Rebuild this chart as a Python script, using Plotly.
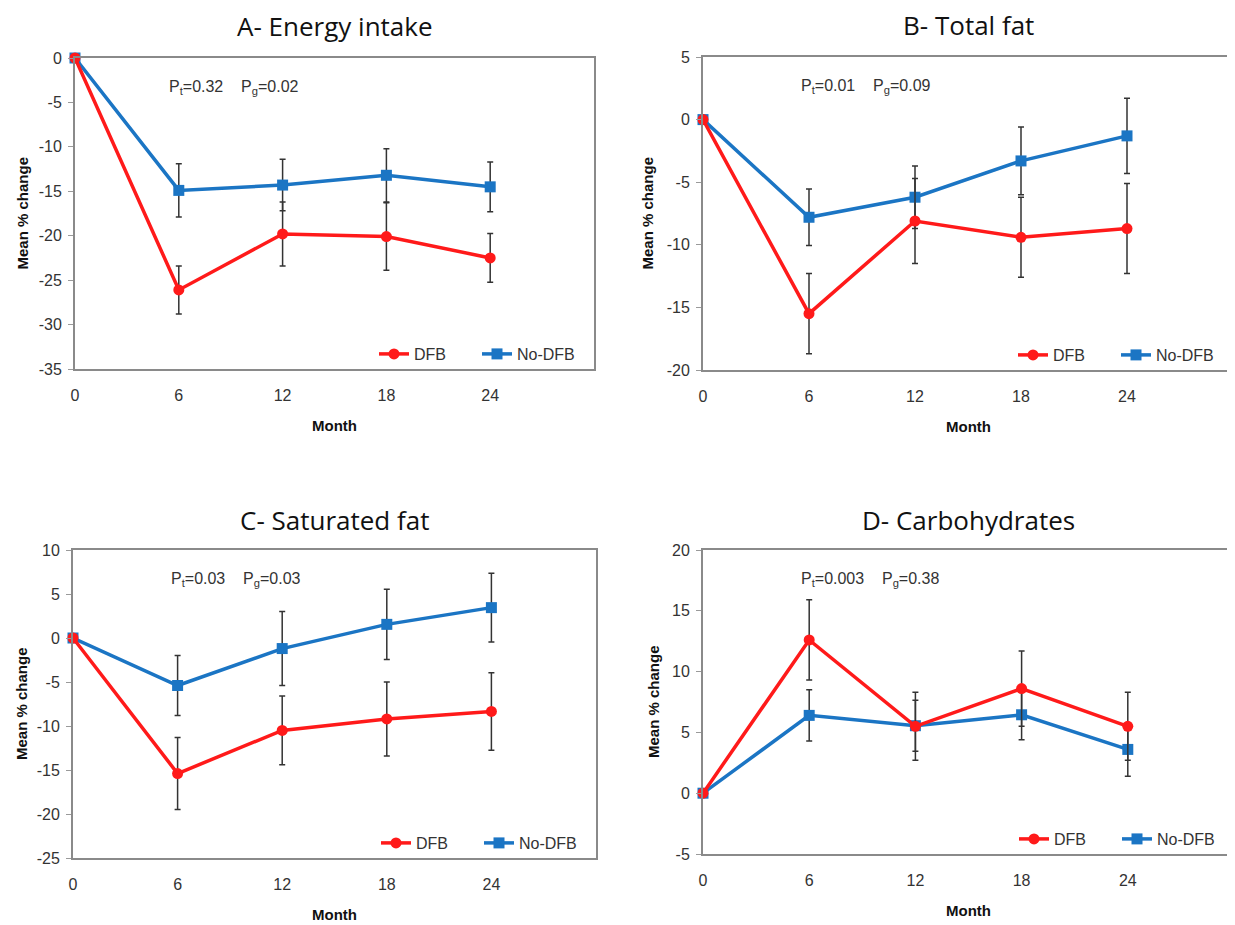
import plotly.graph_objects as go

W, H = 1235, 925
PAGE_OFFSET = 8  # the page body margin shifts the figure by this many pixels

months = [0, 6, 12, 18, 24]
month_ticks = [0, 6, 12, 18, 24]

panel_titles = ["A- Energy intake", "B- Total fat", "C- Saturated fat", "D- Carbohydrates"]
p_time = ["0.32", "0.01", "0.03", "0.003"]
p_group = ["0.02", "0.09", "0.03", "0.38"]

# A- Energy intake
a_dfb = [0, -26.1, -19.8, -20.1, -22.5]
a_dfb_err = [0, 2.7, 3.6, 3.8, 2.75]
a_nodfb = [0, -14.9, -14.3, -13.2, -14.5]
a_nodfb_err = [0, 3.0, 2.9, 3.0, 2.8]

# B- Total fat
b_dfb = [0, -15.5, -8.1, -9.4, -8.7]
b_dfb_err = [0, 3.2, 3.4, 3.2, 3.6]
b_nodfb = [0, -7.8, -6.2, -3.3, -1.3]
b_nodfb_err = [0, 2.25, 2.5, 2.7, 3.0]

# C- Saturated fat
c_dfb = [0, -15.4, -10.5, -9.2, -8.35]
c_dfb_err = [0, 4.1, 3.9, 4.2, 4.4]
c_nodfb = [0, -5.4, -1.2, 1.55, 3.45]
c_nodfb_err = [0, 3.4, 4.2, 4.0, 3.9]

# D- Carbohydrates
d_dfb = [0, 12.6, 5.5, 8.6, 5.5]
d_dfb_err = [0, 3.3, 2.8, 3.1, 2.8]
d_nodfb = [0, 6.4, 5.55, 6.45, 3.6]
d_nodfb_err = [0, 2.1, 2.1, 2.05, 2.2]

y_ranges = [[-35, 0], [-20, 5], [-25, 10], [-5, 20]]
y_ticks = [
    [0, -5, -10, -15, -20, -25, -30, -35],
    [5, 0, -5, -10, -15, -20],
    [10, 5, 0, -5, -10, -15, -20, -25],
    [20, 15, 10, 5, 0, -5],
]

series = [
    (a_dfb, a_dfb_err, a_nodfb, a_nodfb_err),
    (b_dfb, b_dfb_err, b_nodfb, b_nodfb_err),
    (c_dfb, c_dfb_err, c_nodfb, c_nodfb_err),
    (d_dfb, d_dfb_err, d_nodfb, d_nodfb_err),
]

# plot frames in page pixels: left, top, right, bottom
frames = [
    (75, 58, 594, 369),
    (703, 57, 1233, 370),
    (73, 550, 596, 858),
    (703, 550, 1234, 854),
]
title_offsets = [32, 32, 30, 30]
ytitle_offsets = [53, 56, 52, 50]

RED = "#FF1A1A"
BLUE = "#1B75C4"
ERR = "#333333"
FONT = "Liberation Sans, Arial, sans-serif"

fig = go.Figure()


def px(x):
    return (x - PAGE_OFFSET) / W


def py(y):
    return 1 - (y - PAGE_OFFSET) / H


annotations = []
layout_axes = {}
for i, (dfb, dfb_err, nod, nod_err) in enumerate(series):
    n = i + 1
    xa = "x" if n == 1 else f"x{n}"
    ya = "y" if n == 1 else f"y{n}"
    lg = "legend" if n == 1 else f"legend{n}"
    fig.add_trace(go.Scatter(
        x=months, y=nod, xaxis=xa, yaxis=ya, name="No-DFB", legend=lg,
        mode="lines+markers", cliponaxis=False,
        line=dict(color=BLUE, width=3.5),
        marker=dict(symbol="square", size=11, color=BLUE),
        error_y=dict(type="data", array=nod_err, visible=True, color=ERR, thickness=1.5, width=3),
    ))
    fig.add_trace(go.Scatter(
        x=months, y=dfb, xaxis=xa, yaxis=ya, name="DFB", legend=lg,
        mode="lines+markers", cliponaxis=False,
        line=dict(color=RED, width=3.5),
        marker=dict(symbol="circle", size=11, color=RED),
        error_y=dict(type="data", array=dfb_err, visible=True, color=ERR, thickness=1.5, width=3),
    ))
    l, t, r, b = frames[i]
    xkey = "xaxis" if n == 1 else f"xaxis{n}"
    ykey = "yaxis" if n == 1 else f"yaxis{n}"
    layout_axes[xkey] = dict(
        domain=[px(l), px(r)], anchor=ya, range=[0, 30], tickvals=month_ticks,
        ticktext=[str(v) for v in month_ticks], automargin=False,
        showgrid=False, zeroline=False, showline=True, mirror=True,
        linecolor="#8a8a8a", linewidth=2, ticks="", ticklabelstandoff=11,
        tickfont=dict(family=FONT, size=16, color="#333333"),
    )
    layout_axes[ykey] = dict(
        domain=[py(b), py(t)], anchor=xa, range=y_ranges[i],
        tickvals=y_ticks[i], ticktext=[str(v) for v in y_ticks[i]], automargin=False,
        showgrid=False, zeroline=False, showline=True, mirror=True,
        linecolor="#8a8a8a", linewidth=2, ticks="outside", ticklen=5,
        tickcolor="#9a9a9a", ticklabelstandoff=3,
        tickfont=dict(family=FONT, size=16, color="#333333"),
    )
    # panel title
    annotations.append(dict(
        text=panel_titles[i], xref="paper", yref="paper",
        x=px((l + r) / 2), y=py(t - title_offsets[i]), xanchor="center", yanchor="middle",
        showarrow=False, font=dict(family="Open Sans, sans-serif", size=26, color="#111111"),
    ))
    # p values
    annotations.append(dict(
        text=f"P<sub>t</sub>={p_time[i]}    P<sub>g</sub>={p_group[i]}",
        xref="paper", yref="paper", x=px(l + (92 if n == 1 else 96)), y=py(t + 29),
        xanchor="left", yanchor="middle", showarrow=False,
        font=dict(family=FONT, size=16, color="#333333"),
    ))
    # axis titles
    annotations.append(dict(
        text="<b>Mean % change</b>", xref="paper", yref="paper",
        x=px(l - ytitle_offsets[i]), y=py((t + b) / 2), xanchor="center", yanchor="middle",
        textangle=-90, showarrow=False, font=dict(family=FONT, size=15, color="#111111"),
    ))
    annotations.append(dict(
        text="<b>Month</b>", xref="paper", yref="paper",
        x=px((l + r) / 2), y=py(b + 56), xanchor="center", yanchor="middle",
        showarrow=False, font=dict(family=FONT, size=15, color="#111111"),
    ))
    layout_axes[lg] = dict(
        x=px(r - 14), y=py(b - 15), xanchor="right", yanchor="middle",
        orientation="h", traceorder="reversed", bgcolor="rgba(0,0,0,0)",
        font=dict(family=FONT, size=16, color="#333333"),
        itemwidth=30, tracegroupgap=0, entrywidth=58,
    )

fig.update_layout(
    width=W, height=H,
    margin=dict(l=0, r=0, t=0, b=0),
    paper_bgcolor="white", plot_bgcolor="white",
    showlegend=True,
    annotations=annotations,
    **layout_axes,
)

fig.write_html("out.html")
